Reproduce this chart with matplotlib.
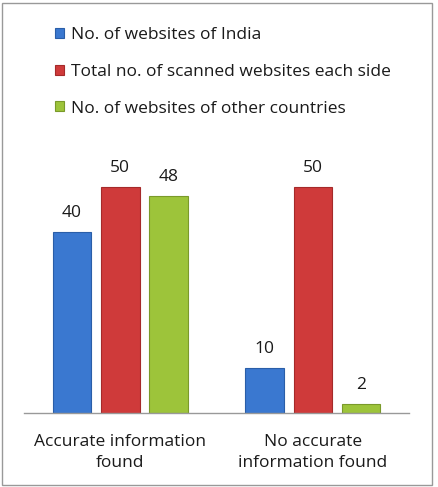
import matplotlib.pyplot as plt
import matplotlib.patches as patches
import numpy as np

plt.rcParams['font.family'] = ['Open Sans', 'DejaVu Sans']

categories = ['Accurate information\nfound', 'No accurate\ninformation found']
series_names = ['No. of websites of India',
                'Total no. of scanned websites each side',
                'No. of websites of other countries']
india = [40, 10]
total = [50, 50]
other = [48, 2]

colors = ['#3a78d0', '#cf3a3a', '#9dc43a']
edges = ['#2a5ea8', '#a52a2a', '#7a9a2a']

W, H = 439, 487
fig = plt.figure(figsize=(W / 100, H / 100), dpi=100)

# axes placed in pixel terms
left, right, bottom, top = 24, 409, 413, 142
ax = fig.add_axes([left / W, 1 - bottom / H, (right - left) / W, (bottom - top) / H])

x = np.arange(len(categories))
offsets = [-0.25, 0, 0.25]
width = 0.2
for vals, off, c, ec, name in zip([india, total, other], offsets, colors, edges, series_names):
    bars = ax.bar(x + off, vals, width, color=c, edgecolor=ec, linewidth=0.8, label=name, zorder=2)
    for b, v in zip(bars, vals):
        ax.text(b.get_x() + b.get_width() / 2, v + 2.4, str(v), ha='center', va='bottom',
                fontsize=12.5, color='#1a1a1a')

ax.set_xlim(-0.5, 1.5)
ax.set_ylim(0, 60)
ax.set_yticks([])
ax.set_xticks(x)
ax.set_xticklabels(categories, fontsize=12.5, color='#1a1a1a', linespacing=1.45)
ax.tick_params(axis='x', length=0, pad=15)
for s in ['top', 'right', 'left']:
    ax.spines[s].set_visible(False)
ax.spines['bottom'].set_color('#999999')
ax.spines['bottom'].set_linewidth(1.0)

leg = fig.legend(loc='upper left', bbox_to_anchor=(48 / W, 1 - 20 / H), frameon=False,
                 fontsize=12.5, handlelength=0.5, handleheight=0.5, handletextpad=0.4,
                 labelspacing=1.2, borderaxespad=0)
for t in leg.get_texts():
    t.set_color('#1a1a1a')

fig.patches.append(patches.Rectangle((2 / W, 2 / H), 430 / W, 482 / H, transform=fig.transFigure,
                                     fill=False, edgecolor='#999999', linewidth=1.0))

fig.savefig('out.png', dpi=100)
